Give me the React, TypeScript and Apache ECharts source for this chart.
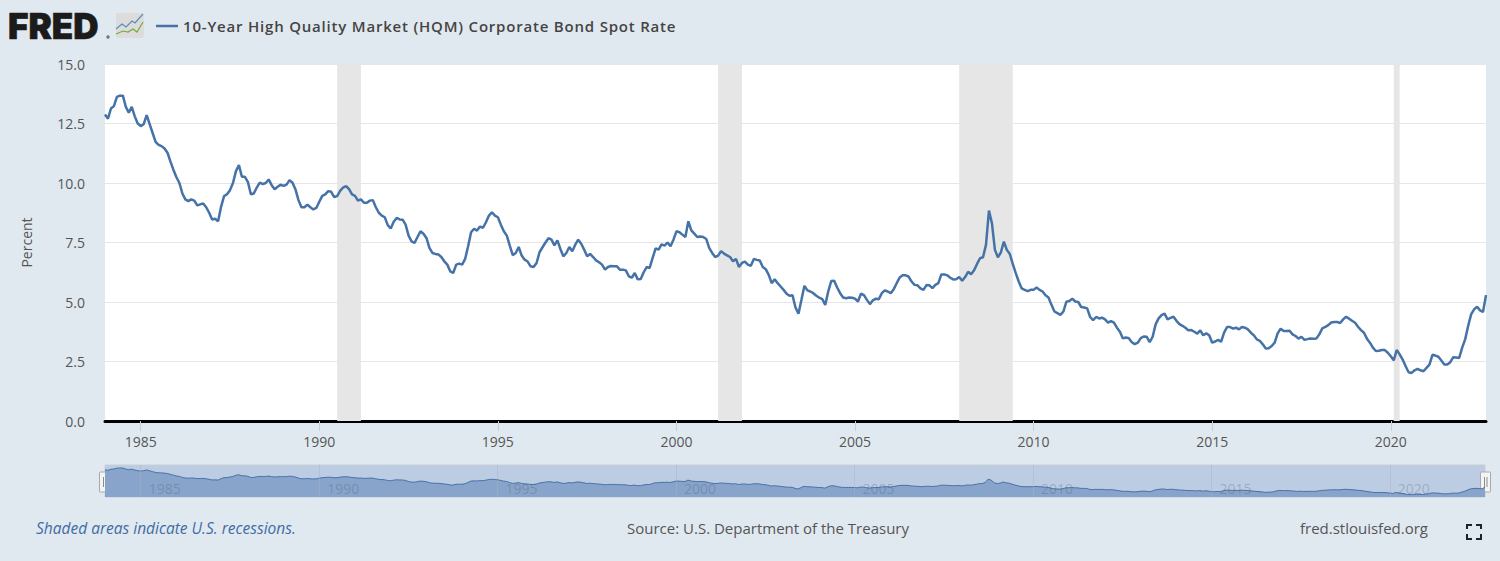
import React, { useEffect, useRef } from "react";
import * as echarts from "echarts";

const seriesName = "10-Year High Quality Market (HQM) Corporate Bond Spot Rate";
const rates1984to1992 = [
  12.88,12.7,13.13,13.23,13.62,13.67,13.67,13.2,12.96,13.2,12.8,12.5,
  12.39,12.47,12.85,12.47,12.1,11.73,11.6,11.55,11.45,11.27,10.9,10.55,
  10.24,10.0,9.56,9.31,9.24,9.31,9.26,9.06,9.1,9.14,8.98,8.75,
  8.47,8.5,8.39,9.0,9.45,9.53,9.7,10.0,10.5,10.75,10.26,10.26,
  10.05,9.53,9.56,9.81,10.02,9.95,10.0,10.15,9.91,9.74,9.84,9.93,
  9.88,9.93,10.12,10.01,9.73,9.28,8.98,8.98,9.09,8.98,8.89,8.95,
  9.21,9.46,9.52,9.66,9.63,9.41,9.45,9.67,9.81,9.87,9.74,9.52,
  9.46,9.26,9.31,9.17,9.17,9.26,9.28,8.98,8.75,8.63,8.56,8.23,
  8.09,8.37,8.53,8.47,8.46,8.25,7.79,7.55,7.48,7.73,7.97,7.87,
];
const rates1993to2002 = [
  7.69,7.27,7.06,7.02,7.0,6.89,6.71,6.57,6.29,6.22,6.57,6.61,
  6.57,6.81,7.34,7.93,8.08,8.0,8.17,8.12,8.35,8.63,8.77,8.63,
  8.56,8.25,7.97,7.79,7.37,6.97,7.06,7.31,6.95,6.78,6.7,6.5,
  6.47,6.64,7.09,7.3,7.5,7.68,7.62,7.38,7.59,7.23,6.92,7.06,
  7.31,7.13,7.41,7.62,7.45,7.2,6.92,7.02,6.89,6.75,6.67,6.57,
  6.36,6.47,6.51,6.5,6.5,6.36,6.36,6.33,6.08,6.02,6.22,5.95,
  5.97,6.25,6.47,6.43,6.85,7.25,7.2,7.42,7.37,7.5,7.34,7.62,
  7.97,7.93,7.83,7.73,8.39,8.01,7.87,7.73,7.75,7.73,7.65,7.27,
  7.06,6.89,6.95,7.14,7.03,6.96,6.89,6.71,6.81,6.47,6.64,6.7,
  6.57,6.52,6.81,6.77,6.74,6.47,6.38,6.14,5.79,5.96,5.79,5.65,
];
const rates2003to2012 = [
  5.51,5.35,5.26,5.28,4.77,4.51,5.09,5.68,5.49,5.44,5.37,5.26,
  5.18,5.12,4.88,5.44,5.88,5.89,5.61,5.37,5.19,5.16,5.19,5.18,
  5.14,5.02,5.35,5.29,5.09,4.91,5.07,5.14,5.12,5.37,5.49,5.44,
  5.37,5.54,5.79,6.03,6.12,6.12,6.07,5.86,5.72,5.7,5.57,5.51,
  5.71,5.7,5.58,5.72,5.79,6.16,6.16,6.12,6.02,5.95,5.96,6.05,
  5.89,6.05,6.27,6.17,6.33,6.6,6.84,6.88,7.4,8.84,8.31,7.19,
  6.88,7.08,7.54,7.19,7.02,6.6,6.21,5.86,5.57,5.51,5.46,5.51,
  5.51,5.61,5.51,5.44,5.28,5.19,4.88,4.6,4.53,4.46,4.6,5.01,
  5.04,5.14,5.02,5.0,4.79,4.77,4.73,4.37,4.24,4.37,4.31,4.34,
  4.27,4.13,4.2,4.13,3.92,3.75,3.47,3.51,3.48,3.31,3.23,3.29,
];
const rates2013to2022 = [
  3.48,3.55,3.54,3.31,3.54,4.06,4.31,4.45,4.51,4.27,4.33,4.38,
  4.21,4.07,4.0,3.92,3.81,3.82,3.75,3.67,3.81,3.6,3.68,3.6,
  3.29,3.34,3.41,3.33,3.71,3.95,3.95,3.88,3.92,3.85,3.95,3.92,
  3.85,3.71,3.6,3.43,3.37,3.22,3.05,3.06,3.15,3.29,3.68,3.88,
  3.78,3.78,3.79,3.64,3.57,3.46,3.54,3.41,3.44,3.47,3.46,3.47,
  3.64,3.89,3.95,4.03,4.14,4.16,4.16,4.12,4.27,4.38,4.3,4.21,
  4.13,3.96,3.82,3.71,3.46,3.29,3.08,2.94,2.95,2.98,2.98,2.87,
  2.72,2.55,2.98,2.8,2.58,2.3,2.05,2.02,2.13,2.19,2.13,2.09,
  2.23,2.37,2.78,2.75,2.7,2.54,2.37,2.37,2.47,2.68,2.67,2.65,
  3.08,3.43,3.99,4.48,4.69,4.8,4.65,4.58,5.29,
];
const rates = [...rates1984to1992, ...rates1993to2002, ...rates2003to2012, ...rates2013to2022];
const months = rates.map((_, i) => `${1984 + Math.floor(i / 12)}-${String((i % 12) + 1).padStart(2, "0")}`);
const recessions = [
  ["1990-07", "1991-03"],
  ["2001-03", "2001-11"],
  ["2007-12", "2009-06"],
  ["2020-02", "2020-04"],
];
const footerLeft = "Shaded areas indicate U.S. recessions.";
const footerCenter = "Source: U.S. Department of the Treasury";
const footerRight = "fred.stlouisfed.org";

const FONT = "'Open Sans', sans-serif";
const isFiveYearTick = (_: number, v: string) =>
  v.endsWith("-01") && Number(v.slice(0, 4)) % 5 === 0;

const handle = (x: number) => ({
  type: "group",
  z: 100,
  children: [
    { type: "rect", shape: { x, y: 472, width: 10, height: 20, r: 1 }, style: { fill: "#f4f4f4", stroke: "#a9a9a9", lineWidth: 1 } },
    { type: "line", shape: { x1: x + 4, y1: 477, x2: x + 4, y2: 487 }, style: { stroke: "#8c8c8c", lineWidth: 1 } },
    { type: "line", shape: { x1: x + 6.5, y1: 477, x2: x + 6.5, y2: 487 }, style: { stroke: "#8c8c8c", lineWidth: 1 } },
  ],
});
const corner = (points: number[][]) => ({
  type: "polyline",
  shape: { points },
  style: { stroke: "#222", lineWidth: 2, fill: "none" },
});

export default function App() {
  const ref = useRef<HTMLDivElement>(null);
  useEffect(() => {
    const chart = echarts.init(ref.current!, null, { renderer: "svg" });
    chart.setOption({
      animation: false,
      backgroundColor: "#e1e9f0",
      textStyle: { fontFamily: FONT },
      legend: {
        data: [{ name: seriesName, icon: "rect" }],
        left: 156,
        top: 15,
        padding: 0,
        itemWidth: 22,
        itemHeight: 2.5,
        selectedMode: false,
        textStyle: { fontFamily: FONT, fontSize: 15, fontWeight: 600, color: "#444", lineHeight: 22 },
      },
      grid: [
        { left: 105, right: 14, top: 64, bottom: 140, show: true, backgroundColor: "#fff", borderWidth: 0 },
        { left: 105, right: 15, top: 465, height: 32, show: true, backgroundColor: "#bccde3", borderColor: "#c8ced6", borderWidth: 1 },
      ],
      xAxis: [
        {
          type: "category",
          data: months,
          boundaryGap: false,
          axisLine: { lineStyle: { color: "#000", width: 3 } },
          axisTick: { interval: isFiveYearTick, length: 10, lineStyle: { color: "#c0d0e0", width: 1 } },
          axisLabel: {
            interval: isFiveYearTick,
            formatter: (v: string) => v.slice(0, 4),
            color: "#555",
            fontFamily: FONT,
            fontSize: 14,
            margin: 13,
          },
          splitLine: { show: false },
        },
        {
          type: "category",
          gridIndex: 1,
          data: months,
          boundaryGap: false,
          z: 10,
          axisLine: { show: false },
          axisTick: { show: false },
          axisLabel: {
            inside: true,
            interval: isFiveYearTick,
            formatter: (v: string) => v.slice(0, 4),
            color: "rgba(70,80,100,0.28)",
            fontFamily: FONT,
            fontSize: 14,
            margin: 2,
            align: "left",
            padding: [0, 0, 0, 8],
          },
          splitLine: { show: true, interval: isFiveYearTick, lineStyle: { color: "rgba(170,175,190,0.45)", width: 1 } },
        },
      ],
      yAxis: [
        {
          type: "value",
          min: 0,
          max: 15,
          interval: 2.5,
          name: "Percent",
          nameLocation: "middle",
          nameGap: 72,
          nameTextStyle: { color: "#555", fontFamily: FONT, fontSize: 14 },
          axisLine: { show: false },
          axisTick: { show: false },
          axisLabel: { formatter: (v: number) => v.toFixed(1), color: "#555", fontFamily: FONT, fontSize: 14, margin: 20 },
          splitLine: { lineStyle: { color: "#e6e6e6", width: 1 } },
        },
        {
          type: "value",
          gridIndex: 1,
          min: 1,
          max: 15,
          axisLine: { show: false },
          axisTick: { show: false },
          axisLabel: { show: false },
          splitLine: { show: false },
        },
      ],
      series: [
        {
          name: seriesName,
          type: "line",
          data: rates,
          symbol: "none",
          itemStyle: { color: "#4572a7" },
          lineStyle: { color: "#4572a7", width: 2.5 },
          markArea: {
            silent: true,
            itemStyle: { color: "#e6e6e6", opacity: 1 },
            data: recessions.map(([a, b]) => [{ xAxis: a }, { xAxis: b }]),
          },
        },
        {
          name: "navigator",
          type: "line",
          xAxisIndex: 1,
          yAxisIndex: 1,
          data: rates,
          symbol: "none",
          lineStyle: { color: "#4572a7", width: 1 },
          areaStyle: { color: "#88a4cb", opacity: 1 },
          itemStyle: { color: "#4572a7" },
        },
      ],
      graphic: [
        { type: "text", x: 8, y: 8, style: { text: "FRED", fill: "#1b1b1b", stroke: "#1b1b1b", lineWidth: 0.6, fontFamily: "Inter", fontWeight: 900, fontSize: 35, textVerticalAlign: "top" } },
        { type: "circle", shape: { cx: 108, cy: 37, r: 1.7 }, style: { fill: "#777" } },
        { type: "rect", shape: { x: 116, y: 13, width: 28, height: 25, r: 2 }, style: { fill: "#dcdcdc" } },
        { type: "polyline", shape: { points: [[116, 29], [122, 24], [126, 27], [132, 21], [135, 23], [143, 14]] }, style: { stroke: "#5b8db8", lineWidth: 1.2, fill: "none" } },
        { type: "polyline", shape: { points: [[116, 34], [123, 31], [128, 32], [133, 29], [137, 32], [143, 22]] }, style: { stroke: "#7aa843", lineWidth: 1.2, fill: "none" } },
        { type: "text", x: 36, y: 528, style: { text: footerLeft, fill: "#3f6ca3", fontFamily: FONT, fontStyle: "italic", fontSize: 15.5, textVerticalAlign: "middle" } },
        { type: "text", x: 768, y: 528, style: { text: footerCenter, fill: "#555", fontFamily: FONT, fontSize: 15, textAlign: "center", textVerticalAlign: "middle" } },
        { type: "text", x: 1428, y: 528, style: { text: footerRight, fill: "#555", fontFamily: FONT, fontSize: 15, textAlign: "right", textVerticalAlign: "middle" } },
        corner([[1467, 529], [1467, 525], [1472, 525]]),
        corner([[1476, 525], [1481, 525], [1481, 529]]),
        corner([[1467, 534], [1467, 539], [1472, 539]]),
        corner([[1476, 539], [1481, 539], [1481, 534]]),
        handle(99.5),
        handle(1480.5),
      ],
    });
    ref.current!.querySelectorAll("text").forEach((t) => {
      if (t.textContent === seriesName) t.setAttribute("letter-spacing", "0.8");
    });
    return () => chart.dispose();
  }, []);
  return <div ref={ref} style={{ position: "absolute", left: 0, top: 0, width: 1500, height: 561 }} />;
}
